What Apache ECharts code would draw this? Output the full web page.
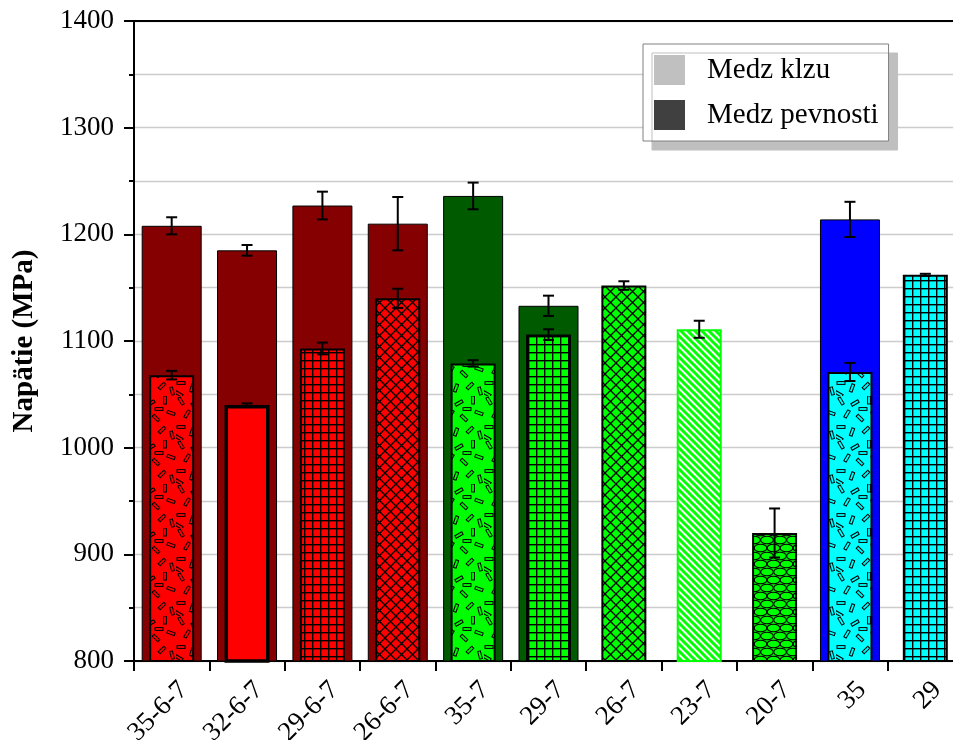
<!DOCTYPE html>
<html><head><meta charset="utf-8">
<script src="https://cdn.jsdelivr.net/npm/echarts@6/dist/echarts.min.js"></script>
<style>html,body{margin:0;padding:0;background:#fff}#c{width:953px;height:740px}</style>
</head><body><div id="c"></div>
<script>
// ---- data ----
const categories = ['35-6-7','32-6-7','29-6-7','26-6-7','35-7','29-7','26-7','23-7','20-7','35','29'];
const yieldValues = [1068, 1040, 1093, 1140, 1079, 1106, 1152, 1111, 920, 1071, 1162];
const yieldErrors = [4, 1.5, 5.5, 9, 3, 5, 4, 8, 23, 8.5, 1];
const strengthValues = [1208, 1185, 1227, 1210, 1236, 1133, null, null, null, 1214, null];
const strengthErrors = [8, 5, 13, 25, 12.5, 9.5, null, null, null, 16.5, null];
const seriesNames = ['Medz klzu', 'Medz pevnosti'];

// ---- styles ----
const strengthColors = ['#850000','#850000','#850000','#850000','#005a00','#005a00',null,null,null,'#0000ff',null];
const yieldColors = ['#ff0000','#ff0000','#ff0000','#ff0000','#00ff00','#00ff00','#00ff00','#00ff00','#00ff00','#00ffff','#00ffff'];
const yieldPatterns = ['dash','solid','grid','cross','dash','grid','cross','diag','hex','dash','grid'];
const FONT = '"Liberation Serif", "Times New Roman", serif';

function makePattern(type, bg) {
  if (type === 'solid') return bg;
  const c = document.createElement('canvas');
  let w = 8, h = 8;
  if (type === 'cross') { w = 11; h = 11; }
  if (type === 'diag') { w = 7; h = 7; }
  if (type === 'hex') { w = 13; h = 16; }
  if (type === 'dash') { w = 44; h = 44; }
  c.width = w; c.height = h;
  const g = c.getContext('2d');
  g.fillStyle = type === 'diag' ? '#ffffff' : bg;
  g.fillRect(0, 0, w, h);
  g.strokeStyle = '#000';
  g.fillStyle = '#000';
  if (type === 'grid') {
    g.fillRect(0, 0, w, 1.4);
    g.fillRect(0, 0, 1.4, h);
  } else if (type === 'cross') {
    g.lineWidth = 1.3;
    g.beginPath();
    g.moveTo(-2, -2); g.lineTo(w + 2, h + 2);
    g.moveTo(w + 2, -2); g.lineTo(-2, h + 2);
    g.stroke();
  } else if (type === 'diag') {
    g.strokeStyle = bg; g.lineWidth = 3;
    g.beginPath();
    for (let k = -w; k <= w; k += w) { g.moveTo(k - 2, -2); g.lineTo(k + w + 2, h + 2); }
    g.stroke();
  } else if (type === 'hex') {
    g.lineWidth = 1.1;
    const rx = w / 2 - 0.2, ry = h / 4 - 0.2;
    const cells = [[w / 2, h / 4], [0, 3 * h / 4], [w, 3 * h / 4], [0, -h / 4], [w, -h / 4], [w / 2, 5 * h / 4]];
    cells.forEach(([x, y]) => {
      g.beginPath(); g.ellipse(x, y, rx, ry, 0, 0, Math.PI * 2); g.stroke();
    });
  } else if (type === 'dash') {
    g.lineWidth = 1;
    const dashes = [[5,5,60],[19,7,-30],[33,4,90],[39,17,20],[11,18,-60],[24,22,45],[5,31,0],[16,36,110],[30,34,-45],[40,39,75],[27,13,0],[3,42,30]];
    dashes.forEach(([x, y, a]) => {
      g.save(); g.translate(x, y); g.rotate(a * Math.PI / 180);
      g.strokeRect(-4, -1.4, 8, 2.8);
      g.restore();
    });
  }
  return { image: c, repeat: 'repeat' };
}

const strengthData = strengthValues.map((v, i) => v == null ? '-' : {
  value: v, itemStyle: { color: strengthColors[i], borderColor: '#000', borderWidth: 1 }
});
const yieldData = yieldValues.map((v, i) => ({
  value: v,
  itemStyle: {
    color: makePattern(yieldPatterns[i], yieldColors[i]),
    borderColor: yieldPatterns[i] === 'diag' ? yieldColors[i] : '#000',
    borderWidth: yieldPatterns[i] === 'solid' ? 3.5 : 2
  }
}));
const errData = [];
yieldValues.forEach((v, i) => errData.push([i, v, yieldErrors[i]]));
strengthValues.forEach((v, i) => { if (v != null) errData.push([i, v, strengthErrors[i]]); });

function errRender(params, api) {
  const x = api.value(0), v = api.value(1), e = api.value(2);
  const t = api.coord([x, v + e]), b = api.coord([x, v - e]);
  const cap = 5.5, st = { stroke: '#000', lineWidth: 2 };
  return { type: 'group', children: [
    { type: 'line', shape: { x1: t[0], y1: t[1], x2: b[0], y2: b[1] }, style: st },
    { type: 'line', shape: { x1: t[0] - cap, y1: t[1], x2: t[0] + cap, y2: t[1] }, style: st },
    { type: 'line', shape: { x1: b[0] - cap, y1: b[1], x2: b[0] + cap, y2: b[1] }, style: st }
  ]};
}

const chart = echarts.init(document.getElementById('c'), null, { renderer: 'canvas' });
chart.setOption({
  backgroundColor: '#fff',
  animation: false,
  textStyle: { fontFamily: FONT },
  grid: [
    { left: 134, top: 21, width: 829, height: 640, containLabel: false, outerBoundsMode: 'none' },
    { left: 146, top: 21, width: 829, height: 640, containLabel: false, outerBoundsMode: 'none' }
  ],
  legend: {
    data: seriesNames,
    orient: 'vertical', left: 643, top: 44,
    padding: [11, 10, 11, 11],
    itemWidth: 31, itemHeight: 30, itemGap: 15,
    icon: 'rect',
    backgroundColor: '#fff', borderColor: '#808080', borderWidth: 1,
    shadowColor: '#bfbfbf', shadowBlur: 0, shadowOffsetX: 9, shadowOffsetY: 9,
    itemStyle: { borderWidth: 0 },
    textStyle: { fontFamily: FONT, fontSize: 29, color: '#000', padding: [0, 0, 0, 17] }
  },
  xAxis: [
    { type: 'category', gridIndex: 0, position: 'bottom', data: categories,
      axisLine: { lineStyle: { color: '#000', width: 2 } },
      axisTick: { show: true, length: 10, lineStyle: { color: '#000', width: 2 } },
      axisLabel: { show: false }, splitLine: { show: false } },
    { type: 'category', gridIndex: 0, position: 'top', data: categories,
      axisLine: { lineStyle: { color: '#000', width: 2 } },
      axisTick: { show: false }, axisLabel: { show: false }, splitLine: { show: false } },
    { type: 'category', gridIndex: 1, position: 'bottom', data: categories,
      axisLine: { show: false }, axisTick: { show: false }, splitLine: { show: false },
      axisLabel: { show: true, interval: 0, rotate: 45, margin: 25, fontFamily: FONT, fontSize: 27, color: '#000' } }
  ],
  yAxis: [
    { type: 'value', gridIndex: 0, min: 800, max: 1400, interval: 100,
      name: 'Napätie (MPa)', nameLocation: 'middle', nameGap: 95, nameRotate: 90,
      nameTextStyle: { fontFamily: FONT, fontSize: 29, fontWeight: 'bold', color: '#000' },
      axisLine: { show: true, lineStyle: { color: '#000', width: 2 } },
      axisTick: { show: true, length: 10, lineStyle: { color: '#000', width: 2 } },
      minorTick: { show: true, splitNumber: 2, length: 5, lineStyle: { color: '#000', width: 2 } },
      axisLabel: { fontFamily: FONT, fontSize: 27, color: '#000', margin: 20, formatter: v => String(v) },
      splitLine: { show: true, lineStyle: { color: '#cccccc', width: 1.3 } },
      minorSplitLine: { show: true, lineStyle: { color: '#cccccc', width: 1.3 } } },
    { type: 'value', gridIndex: 1, min: 800, max: 1400, show: false, splitLine: { show: false } }
  ],
  series: [
    { name: 'Medz pevnosti', type: 'bar', xAxisIndex: 0, yAxisIndex: 0, barWidth: 60,
      itemStyle: { color: '#404040' }, data: strengthData, z: 2 },
    { name: 'Medz klzu', type: 'bar', xAxisIndex: 1, yAxisIndex: 0, barWidth: 45,
      itemStyle: { color: '#c0c0c0' }, data: yieldData, z: 3 },
    { name: 'err', type: 'custom', xAxisIndex: 1, yAxisIndex: 0, renderItem: errRender,
      encode: { x: 0, y: 1 }, data: errData, z: 5, silent: true }
  ]
});
</script></body></html>
